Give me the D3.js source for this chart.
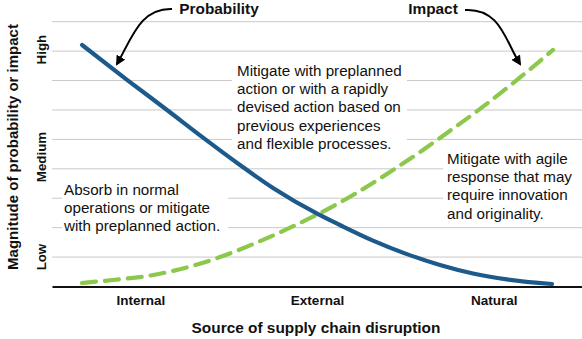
<!DOCTYPE html>
<html><head><meta charset="utf-8">
<script src="https://cdn.jsdelivr.net/npm/d3@7"></script>
<style>body{margin:0;background:#fff;} text{font-family:"Liberation Sans",Arial,sans-serif;fill:#111;}</style>
</head><body><svg id="c" width="582" height="339"></svg>
<script>
const categories = ["Internal", "External", "Natural"];
const levelLabels = ["Low", "Medium", "High"];
const levelValues = [1, 4.4, 8.05];
const gridValues = [1, 2, 3, 4, 5, 6, 7, 8, 9];
const probX = [-0.33, -0.07, 0.151, 0.355, 0.564, 0.751, 1.006, 1.13, 1.317, 1.509, 1.696, 1.883, 2.075, 2.33];
const probY = [8.21, 7.0, 6.0, 5.06, 4.13, 3.35, 2.46, 2.09, 1.56, 1.10, 0.73, 0.44, 0.24, 0.085];
const impX = [-0.33, -0.155, 0.072, 0.264, 0.451, 0.638, 0.83, 1.006, 1.204, 1.413, 1.6, 1.696, 1.906, 2.132, 2.336];
const impY = [0.12, 0.22, 0.39, 0.65, 1.0, 1.44, 1.95, 2.46, 3.11, 3.89, 4.64, 5.05, 5.96, 7.02, 8.04];
const notes = [
  {lines:["Absorb in normal","operations or mitigate","with preplanned action."]},
  {lines:["Mitigate with preplanned","action or with a rapidly","devised action based on","previous experiences","and flexible processes."]},
  {lines:["Mitigate with agile","response that may","require innovation","and originality."]}
];
const seriesNames = ["Probability", "Impact"];

const svg = d3.select("#c");
const x = d3.scaleLinear().domain([-0.5, 2.5]).range([52, 582]);
const y = d3.scaleLinear().domain([0, 9]).range([286.5, 21.7]);

// gridlines
svg.append("g").selectAll("line").data(gridValues).join("line")
  .attr("x1", 52).attr("x2", 582).attr("y1", d => y(d)).attr("y2", d => y(d))
  .attr("stroke", "#c9c9c9").attr("stroke-width", 1);

// note boxes (white backgrounds masking gridlines)
const boxes = [
  {x:62, y:178, w:166, h:60, tx:64, ty:194.5},
  {x:232, y:56, w:175, h:98, tx:237, ty:75.5},
  {x:443, y:150, w:139, h:66, tx:447, ty:163.5}
];
boxes.forEach((b, i) => {
  svg.append("rect").attr("x", b.x).attr("y", b.y).attr("width", b.w).attr("height", b.h).attr("fill", "#fff");
  const t = svg.append("text").attr("x", b.tx).attr("y", b.ty).attr("font-size", 15.2);
  notes[i].lines.forEach((l, j) => t.append("tspan").attr("x", b.tx).attr("y", b.ty + j * 18.4).text(l));
});

// baseline axis
const xAxis = d3.axisBottom(x).tickValues([0, 1, 2]).tickFormat(d => categories[d]).tickSize(0).tickPadding(9);
const gx = svg.append("g").attr("transform", `translate(0,${y(0)})`).call(xAxis);
gx.select(".domain").attr("stroke", "#111").attr("stroke-width", 2);
gx.selectAll("text").attr("font-size", 13.5).attr("font-weight", "bold").attr("fill", "#111")
  .style("font-family", '"Liberation Sans",Arial,sans-serif');

// y level labels
svg.append("g").selectAll("text").data(levelLabels).join("text")
  .attr("transform", (d, i) => `translate(41,${y(levelValues[i])}) rotate(-90)`)
  .attr("text-anchor", "middle").attr("dominant-baseline", "central")
  .attr("font-size", 13.3).attr("font-weight", "bold").text(d => d);

// axis titles
svg.append("text").attr("transform", "translate(12,147) rotate(-90)")
  .attr("text-anchor", "middle").attr("dominant-baseline", "central")
  .attr("font-size", 15).attr("font-weight", "bold").text("Magnitude of probability or impact");
svg.append("text").attr("x", 316).attr("y", 332.5).attr("text-anchor", "middle")
  .attr("font-size", 15.4).attr("font-weight", "bold").text("Source of supply chain disruption");

// curves
const line = d3.line().x(d => x(d[0])).y(d => y(d[1])).curve(d3.curveMonotoneX);
svg.append("path").datum(impX.map((v, i) => [v, impY[i]])).attr("d", line)
  .attr("fill", "none").attr("stroke", "#8cc84b").attr("stroke-width", 4.2)
  .attr("stroke-dasharray", "14,9").attr("stroke-linecap", "round");
svg.append("path").datum(probX.map((v, i) => [v, probY[i]])).attr("d", line)
  .attr("fill", "none").attr("stroke", "#1d5a8c").attr("stroke-width", 4.2).attr("stroke-linecap", "round");

// series labels with arrows
svg.append("defs").append("marker").attr("id", "ah").attr("viewBox", "0 0 10 10")
  .attr("refX", 8).attr("refY", 5).attr("markerWidth", 5).attr("markerHeight", 5)
  .attr("orient", "auto").append("path").attr("d", "M0,0 L10,5 L0,10 z").attr("fill", "#000");
svg.append("text").attr("x", 219).attr("y", 13.5).attr("text-anchor", "middle")
  .attr("font-size", 15.4).attr("font-weight", "bold").text(seriesNames[0]);
svg.append("text").attr("x", 433).attr("y", 13.5).attr("text-anchor", "middle")
  .attr("font-size", 15.4).attr("font-weight", "bold").text(seriesNames[1]);
svg.append("path").attr("d", "M172,9 C140,8 132,38 117,64").attr("fill", "none")
  .attr("stroke", "#000").attr("stroke-width", 2).attr("marker-end", "url(#ah)");
svg.append("path").attr("d", "M465,10 C500,8 505,40 520,64").attr("fill", "none")
  .attr("stroke", "#000").attr("stroke-width", 2).attr("marker-end", "url(#ah)");
</script></body></html>
